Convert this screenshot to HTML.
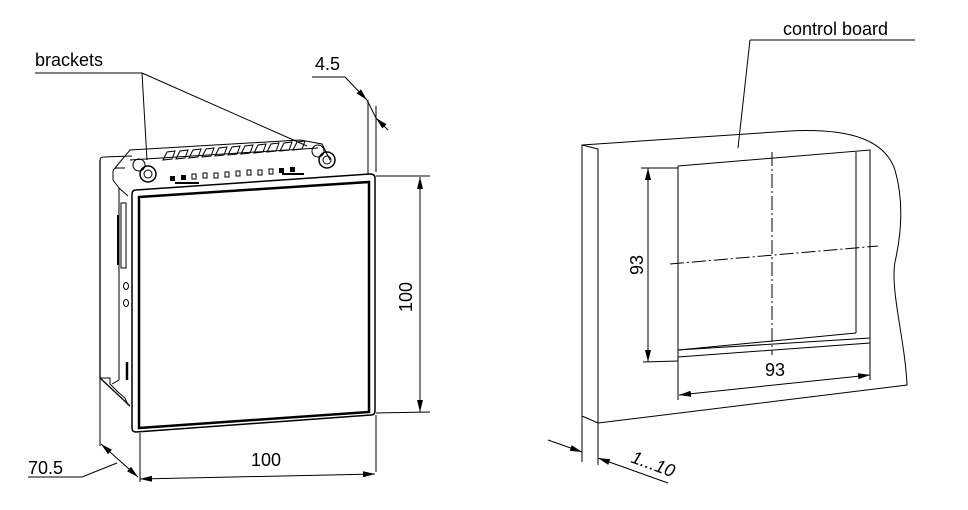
<!DOCTYPE html>
<html><head><meta charset="utf-8">
<style>html,body{margin:0;padding:0;background:#fff;}svg{display:block}</style></head>
<body>
<svg width="968" height="510" viewBox="0 0 968 510" xmlns="http://www.w3.org/2000/svg" font-family="'Liberation Sans', sans-serif" font-size="18">
<defs>
<marker id="a" viewBox="0 0 12 6" refX="12" refY="3" markerWidth="12" markerHeight="6" orient="auto-start-reverse" markerUnits="userSpaceOnUse"><path d="M0,0 L12,3 L0,6 z" fill="#000"/></marker>
</defs>
<g stroke="#000" fill="none" stroke-width="1">
<path d="M100,160 L100,378 L130,406" stroke-width="1.3"/>
<path d="M100,160 Q100,157 104,157 L132,156"/>
<path d="M100,378 L110,378 L110,384 L118,392 L125,398 L128,405"/>
<path d="M113,172 Q113,168 117,168 L125,168"/>
<path d="M113,172 L113,180 L119,188 L119,380 L112,384"/>
<path d="M119,188 L128,196"/>
<rect x="121" y="203" width="5" height="65"/>
<line x1="118" y1="215" x2="118" y2="265" stroke-width="2"/>
<ellipse cx="126" cy="286" rx="2.5" ry="3.5"/>
<ellipse cx="126" cy="303" rx="2.5" ry="3.5"/>
<line x1="127" y1="362" x2="127" y2="380" stroke-width="2.5"/>
<path d="M115,168 L130,150 L300,140 L322,144 L330,160"/>
<path d="M130,160 L318,148"/>
<path d="M163,160 l4,-8 l8,-1 l-3,8z M176,159 l4,-8 l8,-1 l-3,8z M189,158 l4,-8 l8,-1 l-3,8z M202,157 l4,-8 l8,-1 l-3,8z M215,156 l4,-8 l8,-1 l-3,8z M228,155 l4,-8 l8,-1 l-3,8z M241,154 l4,-8 l8,-1 l-3,8z M254,153 l4,-8 l8,-1 l-3,8z M267,152 l4,-8 l8,-1 l-3,8z M280,151 l4,-8 l8,-1 l-3,8z M293,150 l4,-8 l8,-1 l-3,8z"/>
<g fill="#000" stroke="none">
<rect x="170" y="176" width="5" height="5"/><rect x="181" y="175" width="5" height="5"/>
<rect x="279" y="168" width="5" height="5"/><rect x="290" y="167" width="5" height="5"/>
<rect x="175" y="182" width="24" height="2"/><rect x="282" y="173" width="22" height="2"/>
</g>
<rect x="192" y="174" width="4" height="5"/><rect x="203" y="173" width="4" height="5"/>
<rect x="214" y="173" width="4" height="5"/><rect x="225" y="172" width="4" height="5"/>
<rect x="236" y="171" width="4" height="5"/><rect x="247" y="170" width="4" height="5"/>
<rect x="258" y="170" width="4" height="5"/><rect x="269" y="169" width="4" height="5"/>
<circle cx="148" cy="174" r="8" stroke-width="1.5"/><circle cx="148" cy="174" r="4"/>
<circle cx="139" cy="165" r="6"/>
<circle cx="327" cy="160" r="8" stroke-width="1.5"/><circle cx="327" cy="160" r="4"/>
<circle cx="318" cy="151" r="6"/>
<path d="M136,190 L370,174 Q375,174 375,178 L375,411 Q375,415 371,415 L136,432 Q132,432 132,428 L132,194 Q132,190 136,190 Z" stroke-width="1.5"/>
<path d="M139,197 L369,182 L369,412 L139,428 Z" stroke-width="2.5"/>
<line x1="35" y1="73" x2="142" y2="73"/>
<line x1="142" y1="73" x2="147" y2="160"/>
<line x1="142" y1="73" x2="307" y2="146"/>
<line x1="312" y1="77" x2="345" y2="77"/>
<line x1="345" y1="77" x2="367" y2="100" marker-end="url(#a)"/>
<line x1="388" y1="130" x2="376" y2="118" marker-end="url(#a)"/>
<line x1="367" y1="100" x2="376" y2="118"/>
<line x1="368" y1="100" x2="368" y2="174"/>
<line x1="376" y1="106" x2="376" y2="172"/>
<line x1="376" y1="176" x2="430" y2="176"/>
<line x1="376" y1="413" x2="430" y2="412"/>
<line x1="420" y1="177" x2="420" y2="412" marker-start="url(#a)" marker-end="url(#a)"/>
<line x1="140" y1="433" x2="140" y2="482"/>
<line x1="376" y1="415" x2="376" y2="472"/>
<line x1="140" y1="479" x2="375" y2="474" marker-start="url(#a)" marker-end="url(#a)"/>
<line x1="100" y1="378" x2="100" y2="446"/>
<line x1="101" y1="444" x2="138" y2="477" marker-start="url(#a)" marker-end="url(#a)"/>
<polyline points="117,463 82,477 28,477"/>
<path d="M582,145 L598,149 L598,423 L582,416 Z"/>
<path d="M582,145 L790,131 C850,128 885,140 895,170 C905,205 900,240 895,262 C890,290 905,340 907,385 L598,423"/>
<path d="M678,166 L870,150 L870,338 L678,350 Z"/>
<path d="M678,357 L870,343 L870,338"/>
<line x1="678" y1="350" x2="678" y2="357"/>
<line x1="856" y1="152" x2="856" y2="333"/>
<line x1="856" y1="333" x2="678" y2="350"/>
<line x1="772" y1="152" x2="772" y2="355" stroke-dasharray="14,3,2,3"/>
<line x1="670" y1="264" x2="878" y2="246" stroke-dasharray="14,3,2,3"/>
<line x1="641" y1="168" x2="678" y2="168"/>
<line x1="643" y1="362" x2="678" y2="361"/>
<line x1="648" y1="168" x2="648" y2="362" marker-start="url(#a)" marker-end="url(#a)"/>
<line x1="678" y1="357" x2="678" y2="400"/>
<line x1="870" y1="343" x2="870" y2="380"/>
<line x1="679" y1="395" x2="870" y2="375" marker-start="url(#a)" marker-end="url(#a)"/>
<line x1="738" y1="148" x2="750" y2="40"/>
<line x1="750" y1="40" x2="915" y2="40"/>
<line x1="582" y1="416" x2="582" y2="462"/>
<line x1="598" y1="423" x2="598" y2="465"/>
<line x1="548" y1="440" x2="582" y2="452" marker-end="url(#a)"/>
<line x1="668" y1="483" x2="598" y2="458" marker-end="url(#a)"/>
</g>
<g fill="#000" stroke="none">
<text x="35" y="66">brackets</text>
<text x="315" y="70">4.5</text>
<text x="0" y="0" transform="translate(412,297) rotate(-90)" text-anchor="middle">100</text>
<text x="266" y="466" text-anchor="middle">100</text>
<text x="28" y="474">70.5</text>
<text x="783" y="35">control board</text>
<text x="0" y="0" transform="translate(643,265) rotate(-90)" text-anchor="middle">93</text>
<text x="775" y="376" text-anchor="middle">93</text>
<text x="630" y="462" font-style="italic" transform="rotate(20 630 462)">1...10</text>
</g>
</svg>
</body></html>
